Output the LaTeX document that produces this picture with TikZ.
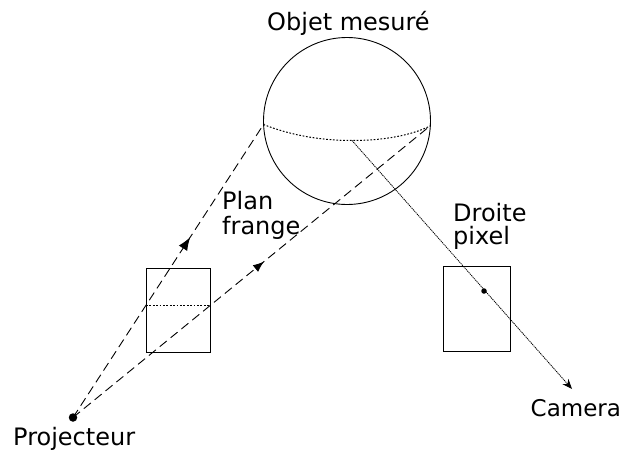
\documentclass[tikz,border=0pt]{standalone}
\usepackage{fontspec}
\setmainfont{DejaVu Sans}
\usetikzlibrary{arrows.meta,decorations.markings}
\tikzset{
  x=1pt,y=-1pt,
  outline/.style={draw=black,line width=0.9pt},
  dotline/.style={draw=black,line width=1pt,dash pattern=on 1.7pt off 1.7pt},
  ray/.style={draw=black,line width=0.9pt,dash pattern=on 9pt off 5pt},
  pixelray/.style={draw=black,line width=0.8pt,dash pattern=on 1.2pt off 0.8pt},
  lbl/.style={inner sep=0pt,anchor=base west,font=\fontsize{24}{24}\selectfont},
  lbltwo/.style={inner sep=0pt,anchor=north west,align=left,font=\fontsize{24}{23.5}\selectfont},
  pt/.style={circle,fill=black,inner sep=0pt}
}
\begin{document}
\begin{tikzpicture}
\useasboundingbox (0,0) rectangle (622,450);
% sphere
\node[outline,circle,minimum size=167pt,inner sep=0pt] (sphere) at (347,121) {};
\coordinate (eqL) at (263.5,124.5);
\coordinate (eqR) at (430,126);
\coordinate (eqM) at (352,140.5);
\draw[dotline] (eqL) .. controls (290,135) and (320,140.5) .. (eqM) .. controls (385,140.5) and (412,135) .. (eqR);
% rectangles
\node[outline,minimum width=64pt,minimum height=84.5pt,inner sep=0pt] (proj) at (178,310.5) {};
\node[outline,minimum width=67pt,minimum height=85.5pt,inner sep=0pt] (cam) at (476.8,309) {};
\coordinate (pL) at (146,305.7);
\coordinate (pR) at (210,305.7);
\draw[dotline] (pL) -- (pR);
% points
\node[pt,minimum size=8.5pt] (P) at (73,417.5) {};
\node[pt,minimum size=5.5pt] (C) at (484,291) {};
\coordinate (camEnd) at (572,389);
% rays
\draw[ray,postaction={decorate},decoration={markings,mark=at position 0.615 with {\arrow{Latex[length=13pt,width=10pt]}}}] (P.center) -- (eqL);
\draw[ray,postaction={decorate},decoration={markings,mark=at position 0.535 with {\arrow{Latex[length=11pt,width=8.5pt]}}}] (P.center) -- (eqR);
\draw[pixelray,-{Stealth[length=10pt,width=8pt]}] (eqM) -- (camEnd);
% labels
\node[lbl] (objet) at (267,30) {Objet mesuré};
\node[lbltwo,font=\fontsize{24}{25}\selectfont] (plan) at (222,191) {Plan\\frange};
\node[lbltwo] (droite) at (453,203) {Droite\\pixel};
\node[lbl,font=\fontsize{23}{23}\selectfont] (camera) at (530.5,416) {Camera};
\node[lbl] (projecteur) at (13,445.5) {Projecteur};
\end{tikzpicture}
\end{document}
